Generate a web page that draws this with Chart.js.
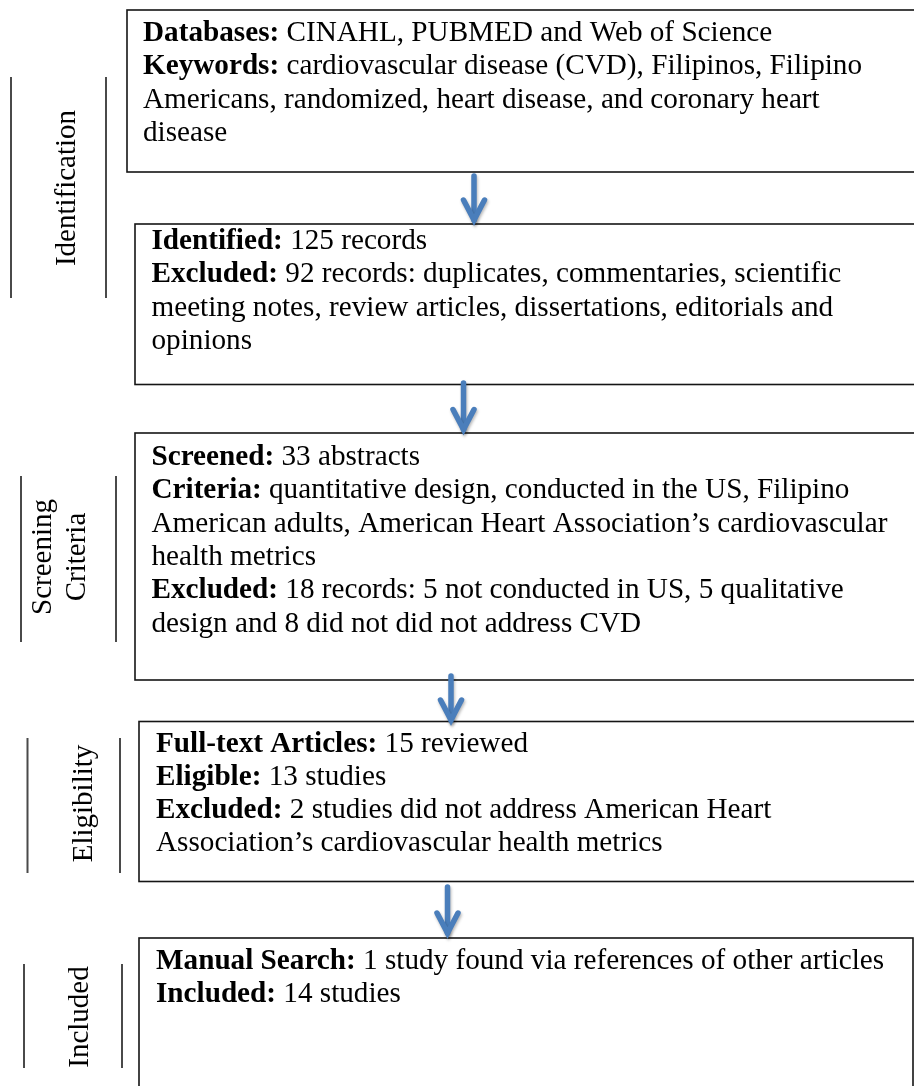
<!DOCTYPE html>
<html>
<head>
<meta charset="utf-8">
<script src="https://cdn.jsdelivr.net/npm/chart.js@4.4.1/dist/chart.umd.min.js"></script>
<style>
  html, body { margin: 0; padding: 0; background: #ffffff; }
  #wrap { position: relative; width: 914px; height: 1086px; }
</style>
</head>
<body>
<div id="wrap"><canvas id="c"></canvas></div>
<script>
// ---------------- content (data) ----------------
const stageLabels = [["Identification"], ["Screening", "Criteria"], ["Eligibility"], ["Included"]];

const identifiedRecords = [125, 92];          // identified, excluded
const screeningCounts   = [33, 18, 5, 5, 8];   // screened, excluded, not US, qualitative, no CVD
const eligibilityCounts = [15, 13, 2];         // full-text reviewed, eligible, excluded
const inclusionCounts   = [1, 14];             // manual search, included

const box1Lines = [
  [["Databases:", true], [" CINAHL, PUBMED and Web of Science", false]],
  [["Keywords:", true], [" cardiovascular disease (CVD), Filipinos, Filipino", false]],
  [["Americans, randomized, heart disease, and coronary heart", false]],
  [["disease", false]]
];
const box2Lines = [
  [["Identified:", true], [" " + identifiedRecords[0] + " records", false]],
  [["Excluded:", true], [" " + identifiedRecords[1] + " records: duplicates, commentaries, scientific", false]],
  [["meeting notes, review articles, dissertations, editorials and", false]],
  [["opinions", false]]
];
const box3Lines = [
  [["Screened:", true], [" " + screeningCounts[0] + " abstracts", false]],
  [["Criteria:", true], [" quantitative design, conducted in the US, Filipino", false]],
  [["American adults, American Heart Association\u2019s cardiovascular", false]],
  [["health metrics", false]],
  [["Excluded:", true], [" " + screeningCounts[1] + " records: " + screeningCounts[2] + " not conducted in US, " + screeningCounts[3] + " qualitative", false]],
  [["design and " + screeningCounts[4] + " did not did not address CVD", false]]
];
const box4Lines = [
  [["Full-text Articles:", true], [" " + eligibilityCounts[0] + " reviewed", false]],
  [["Eligible:", true], [" " + eligibilityCounts[1] + " studies", false]],
  [["Excluded:", true], [" " + eligibilityCounts[2] + " studies did not address American Heart", false]],
  [["Association\u2019s cardiovascular health metrics", false]]
];
const box5Lines = [
  [["Manual Search:", true], [" " + inclusionCounts[0] + " study found via references of other articles", false]],
  [["Included:", true], [" " + inclusionCounts[1] + " studies", false]]
];
const boxTexts = [box1Lines, box2Lines, box3Lines, box4Lines, box5Lines];

// ---------------- layout (positions / sizes) ----------------
const boxLayout = [
  { x0: 127, y0: 10,    x1: 918, y1: 172,   tx: 143,   ty: 41 },
  { x0: 135, y0: 224,   x1: 918, y1: 384.5, tx: 151.5, ty: 249 },
  { x0: 135, y0: 433,   x1: 918, y1: 680,   tx: 151.5, ty: 465 },
  { x0: 139, y0: 721.5, x1: 918, y1: 881.5, tx: 156,   ty: 751.5 },
  { x0: 139, y0: 938,   x1: 913, y1: 1095,  tx: 156,   ty: 968.5 }
];
const arrowLayout = [
  { x: 474,   y0: 176, y1: 222 },
  { x: 463.5, y0: 383, y1: 431.5 },
  { x: 451,   y0: 676, y1: 722 },
  { x: 447.5, y0: 887, y1: 935 }
];
const stageLayout = [
  { la: 11,   lb: 106, ly0: 77,  ly1: 298, cy: 188,  bx: [75] },
  { la: 21,   lb: 116, ly0: 476, ly1: 642, cy: 557,  bx: [51, 85] },
  { la: 27.5, lb: 120, ly0: 738, ly1: 873, cy: 803.5, bx: [92] },
  { la: 24,   lb: 122, ly0: 964, ly1: 1068, cy: 1017, bx: [88] }
];
const lineGap = 33.3;
const bodyFont = "29.2px 'Liberation Serif', 'Times New Roman', serif";
const boldFont = "bold 29.2px 'Liberation Serif', 'Times New Roman', serif";
const stageFont = "29px 'Liberation Serif', 'Times New Roman', serif";
const arrowColor = "#4a7ebb";

const flowPlugin = {
  id: 'flow',
  afterDraw(chart) {
    const ctx = chart.ctx;
    const xs = chart.scales.x, ys = chart.scales.y;
    const X = v => xs.getPixelForValue(v);
    const Y = v => ys.getPixelForValue(v);

    // boxes + text
    boxLayout.forEach((b, i) => {
      ctx.save();
      ctx.strokeStyle = '#151515';
      ctx.lineWidth = 1.6;
      ctx.strokeRect(X(b.x0), Y(b.y0), X(b.x1) - X(b.x0), Y(b.y1) - Y(b.y0));
      ctx.restore();
      boxTexts[i].forEach((line, li) => {
        ctx.save();
        ctx.translate(X(b.tx), Y(b.ty + li * lineGap));
        ctx.fillStyle = '#000';
        ctx.textBaseline = 'alphabetic';
        ctx.textAlign = 'left';
        let off = 0;
        line.forEach(([t, bold]) => {
          ctx.font = bold ? boldFont : bodyFont;
          ctx.fillText(t, off, 0);
          off += ctx.measureText(t).width;
        });
        ctx.restore();
      });
    });

    // arrows
    arrowLayout.forEach(a => {
      ctx.save();
      ctx.strokeStyle = arrowColor;
      ctx.lineWidth = 5.5;
      ctx.lineCap = 'round';
      ctx.lineJoin = 'miter';
      ctx.shadowColor = 'rgba(0,0,0,0.28)';
      ctx.shadowBlur = 3;
      ctx.shadowOffsetX = 1;
      ctx.shadowOffsetY = 2;
      const x = X(a.x), y0 = Y(a.y0), y1 = Y(a.y1) - 2;
      ctx.beginPath();
      ctx.moveTo(x, y0);
      ctx.lineTo(x, y1);
      ctx.stroke();
      ctx.beginPath();
      ctx.moveTo(x - 10.5, y1 - 20);
      ctx.lineTo(x, y1);
      ctx.lineTo(x + 10.5, y1 - 20);
      ctx.stroke();
      ctx.restore();
    });

    // stage labels + side rules
    stageLayout.forEach((s, i) => {
      ctx.save();
      ctx.strokeStyle = '#4a4a4a';
      ctx.lineWidth = 2;
      ctx.beginPath();
      ctx.moveTo(X(s.la), Y(s.ly0)); ctx.lineTo(X(s.la), Y(s.ly1));
      ctx.moveTo(X(s.lb), Y(s.ly0)); ctx.lineTo(X(s.lb), Y(s.ly1));
      ctx.stroke();
      ctx.restore();
      stageLabels[i].forEach((t, k) => {
        ctx.save();
        ctx.translate(X(s.bx[k]), Y(s.cy));
        ctx.rotate(-Math.PI / 2);
        ctx.font = stageFont;
        ctx.fillStyle = '#000';
        ctx.textAlign = 'center';
        ctx.textBaseline = 'alphabetic';
        ctx.fillText(t, 0, 0);
        ctx.restore();
      });
    });
  }
};

new Chart(document.getElementById('c'), {
  type: 'scatter',
  data: { datasets: [{ data: [], pointRadius: 0 }] },
  options: {
    responsive: true,
    maintainAspectRatio: false,
    animation: false,
    events: [],
    layout: { padding: 0 },
    plugins: { legend: { display: false }, tooltip: { enabled: false }, title: { display: false } },
    scales: {
      x: { type: 'linear', min: 0, max: 914, display: false },
      y: { type: 'linear', min: 0, max: 1086, reverse: true, display: false }
    }
  },
  plugins: [flowPlugin]
});
</script>
</body>
</html>
